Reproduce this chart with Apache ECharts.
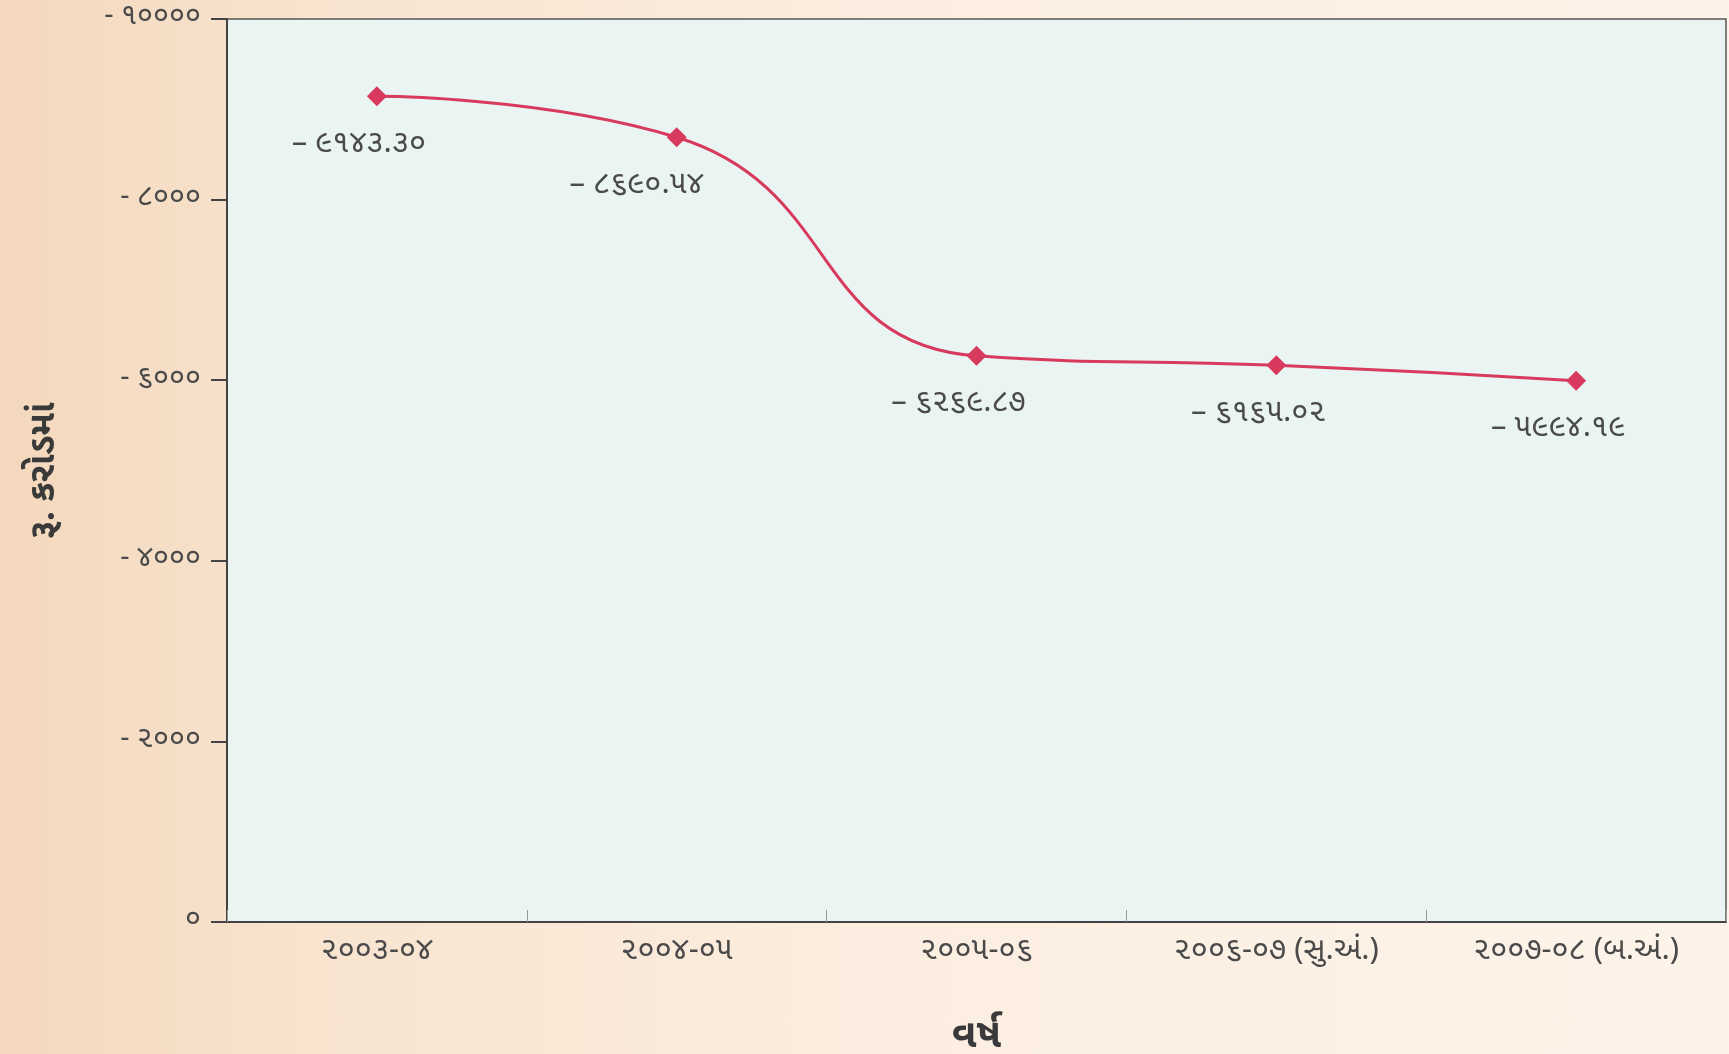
<!DOCTYPE html>
<html>
<head>
<meta charset="utf-8">
<script src="https://cdn.jsdelivr.net/npm/echarts@6/dist/echarts.min.js"></script>
<style>
html,body{margin:0;padding:0;width:1729px;height:1054px;overflow:hidden;}
body{background:linear-gradient(90deg,#f4d8bd 0%,#f8e4cf 18%,#fcefe2 55%,#fdf3e8 100%);}
#c{width:1729px;height:1054px;}
</style>
</head>
<body>
<div id="c"></div>
<script>
const categories = ['૨૦૦૩-૦૪', '૨૦૦૪-૦૫', '૨૦૦૫-૦૬', '૨૦૦૬-૦૭ (સુ.અં.)', '૨૦૦૭-૦૮ (બ.અં.)'];
const values = [-9143.30, -8690.54, -6269.87, -6165.02, -5994.19];
const yTicks = [0, -2000, -4000, -6000, -8000, -10000];
const yAxisName = 'રૂ. કરોડમાં';
const xAxisName = 'વર્ષ';

const gu = '૦૧૨૩૪૫૬૭૮૯';
function toGu(s){ return String(s).replace(/[0-9]/g, d => gu[+d]); }

const chart = echarts.init(document.getElementById('c'), null, {renderer:'canvas'});
const txt = '#4a4a4a';
chart.setOption({
  backgroundColor: 'transparent',
  textStyle: {fontFamily: '"Noto Sans Gujarati","Noto Sans","DejaVu Sans",sans-serif'},
  grid: {left: 227, right: 3, top: 19, bottom: 132, show: true, containLabel: false, outerBoundsMode: 'none',
    backgroundColor: '#eaf4f2', borderColor: '#555', borderWidth: 1.5},
  xAxis: {
    type: 'category', data: categories,
    name: xAxisName, nameLocation: 'middle', nameGap: 98,
    nameTextStyle: {fontSize: 40, color: '#3a3a3a', fontWeight: 'bold'},
    axisLine: {lineStyle: {color: '#444', width: 2}},
    axisTick: {show: true, inside: true, length: 12, lineStyle: {color: '#999'}},
    axisLabel: {fontSize: 31, color: txt, margin: 16}
  },
  yAxis: {
    type: 'value', inverse: true, min: -10000, max: 0, interval: 2000,
    name: yAxisName, nameLocation: 'middle', nameGap: 162, nameRotate: 90,
    nameTextStyle: {fontSize: 36, color: '#3a3a3a', fontWeight: 'bold'},
    axisLine: {show: true, lineStyle: {color: '#444', width: 2}},
    axisTick: {show: true, length: 16, lineStyle: {color: '#444', width: 2}},
    splitLine: {show: false},
    axisLabel: {fontSize: 29, color: txt, margin: 26,
      formatter: v => v === 0 ? toGu(0) : '- ' + toGu(Math.abs(v))}
  },
  series: [{
    type: 'line',
    data: values.map((v, i) => i === 1 ? {value: v, label: {offset: [-40, 0]}} : v),
    smooth: 0.5,
    symbol: 'diamond', symbolSize: 20,
    lineStyle: {color: '#d83a5e', width: 3},
    itemStyle: {color: '#d83a5e'},
    label: {show: true, position: 'bottom', distance: 24, offset: [-18, 0],
      fontSize: 31, color: txt,
      formatter: p => '– ' + toGu(Math.abs(p.value).toFixed(2))}
  }]
});
</script>
</body>
</html>
